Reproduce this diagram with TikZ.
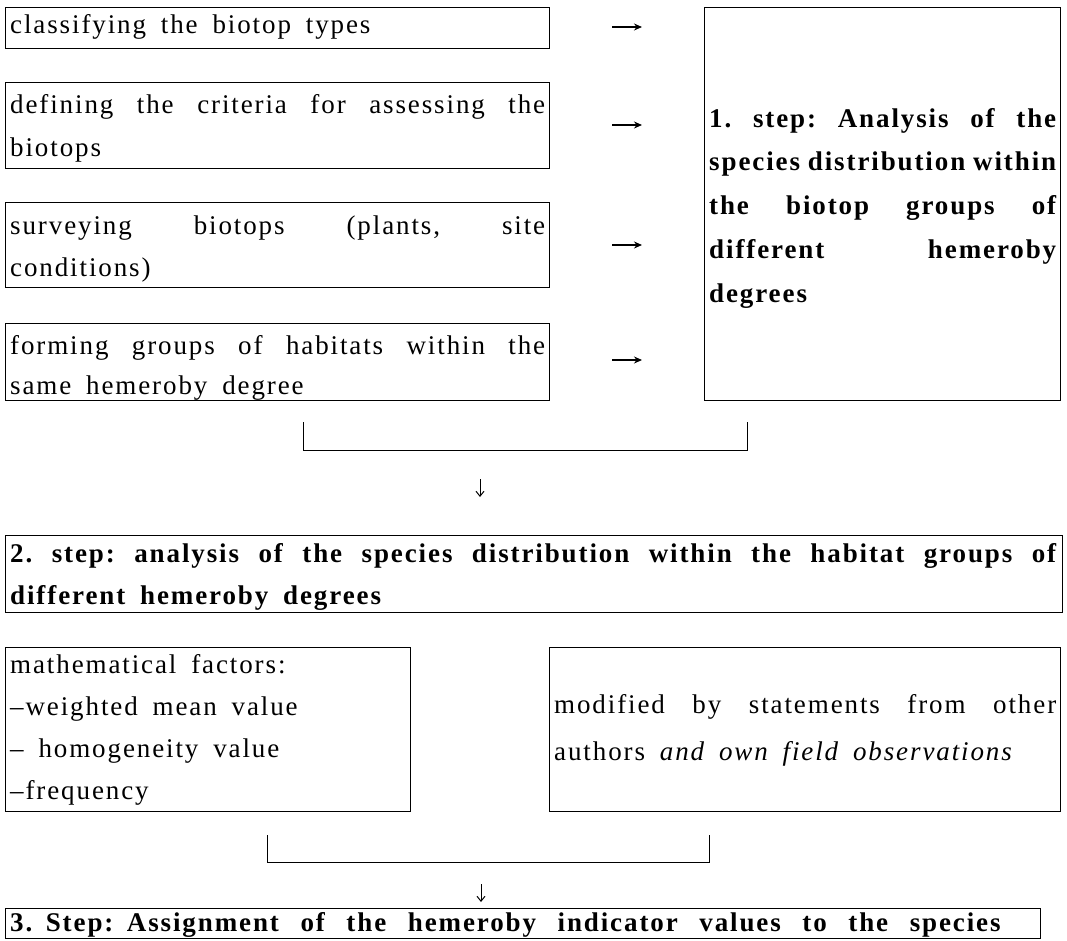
\documentclass[tikz,border=0pt]{standalone}
\usepackage{fontspec}
\setmainfont{Liberation Serif}[LetterSpace=7, Ligatures=NoCommon]
\usetikzlibrary{arrows.meta}
\newcommand\boxfont{\fontsize{27}{42}\selectfont}
\newcommand\stepfont{\fontsize{27}{43.75}\selectfont\bfseries}
\tikzset{
  frame/.style={draw, line width=1.2pt, anchor=north west, inner sep=0pt},
  txt/.style={inner sep=0pt, anchor=base west, align=left, font=\boxfont, execute at begin node={\spaceskip=0.55em\relax}},
  rarrow/.style={-{Stealth[length=8pt,width=7pt]}, line width=1.4pt},
  darrow/.style={-{Straight Barb[length=5pt,width=8pt]}, line width=1pt},
  bracket/.style={line width=0.9pt}
}
\begin{document}
\begin{tikzpicture}[x=1pt, y=-1pt]
\useasboundingbox (0,0) rectangle (1067,940);
% frames
\node[frame, minimum width=544pt, minimum height=41pt] (b1) at (5,7) {};
\node[frame, minimum width=544pt, minimum height=86pt] (b2) at (5,82) {};
\node[frame, minimum width=544pt, minimum height=85pt] (b3) at (5,202) {};
\node[frame, minimum width=544pt, minimum height=77pt] (b4) at (5,323) {};
\node[frame, minimum width=356pt, minimum height=393pt] (s1) at (704,7) {};
\node[frame, minimum width=1057pt, minimum height=77pt] (s2) at (5,535) {};
\node[frame, minimum width=405pt, minimum height=164pt] (m) at (5,647) {};
\node[frame, minimum width=511pt, minimum height=164pt] (mod) at (549,647) {};
\node[frame, minimum width=1035pt, minimum height=30pt] (s3) at (5,908) {};
% texts (anchored at the baseline of their first line)
\node[txt, text width=535pt] (b1t) at (10,33)
  {classifying the biotop types};
\node[txt, text width=535pt] (b2t) at (10,113)
  {defining\hfill the\hfill criteria\hfill for\hfill assessing\hfill the\\[1pt] biotops};
\node[txt, text width=535pt] (b3t) at (10,234)
  {surveying\hfill biotops\hfill (plants,\hfill site\\ conditions)};
\node[txt, text width=535pt] (b4t) at (10,354)
  {forming\hfill groups\hfill of\hfill habitats\hfill within\hfill the\\[-2pt] same hemeroby degree};
\node[txt, text width=347pt, font=\stepfont] (s1t) at (709,127)
  {1.\hfill step:\hfill Analysis\hfill of\hfill the\\ species\hfill distribution\hfill within\\ the\hfill biotop\hfill groups\hfill of\\ different\hfill hemeroby\\ degrees};
\node[txt, text width=1046pt, font=\boxfont\bfseries] (s2t) at (10,562)
  {2.\hfill step:\hfill analysis\hfill of\hfill the\hfill species\hfill distribution\hfill within\hfill the\hfill habitat\hfill groups\hfill of\\ different hemeroby degrees};
\node[txt, text width=395pt] (mt) at (10,673)
  {mathematical factors:\\ \textendash weighted mean value\\ \textendash\ homogeneity value\\ \textendash frequency};
\node[txt, text width=502pt] (modt) at (554,713)
  {modified\hfill by\hfill statements\hfill from\hfill other\\[5pt] authors {\itshape and own field observations}};
\node[txt, text width=1025pt, font=\boxfont\bfseries, execute at begin node={\spaceskip=0.8em\relax}] (s3t) at (10,931)
  {3. Step: Assignment of the hemeroby indicator values to the species};
% arrows
\coordinate (a1s) at (612,27);  \coordinate (a1e) at (642,27);
\coordinate (a2s) at (612,125); \coordinate (a2e) at (642,125);
\coordinate (a3s) at (612,245); \coordinate (a3e) at (642,245);
\coordinate (a4s) at (612,360); \coordinate (a4e) at (642,360);
\draw[rarrow] (a1s) -- (a1e);
\draw[rarrow] (a2s) -- (a2e);
\draw[rarrow] (a3s) -- (a3e);
\draw[rarrow] (a4s) -- (a4e);
% bracket 1
\coordinate (k1l) at (303,422); \coordinate (k1lb) at (303,450);
\coordinate (k1r) at (747,422); \coordinate (k1rb) at (747,450);
\draw[bracket] (k1l) -- (k1lb) -- (k1rb) -- (k1r);
\coordinate (d1s) at (480,479); \coordinate (d1e) at (480,497);
\draw[darrow] (d1s) -- (d1e);
% bracket 2
\coordinate (k2l) at (267,835); \coordinate (k2lb) at (267,862);
\coordinate (k2r) at (709,835); \coordinate (k2rb) at (709,862);
\draw[bracket] (k2l) -- (k2lb) -- (k2rb) -- (k2r);
\coordinate (d2s) at (481,884); \coordinate (d2e) at (481,902);
\draw[darrow] (d2s) -- (d2e);
\end{tikzpicture}
\end{document}
